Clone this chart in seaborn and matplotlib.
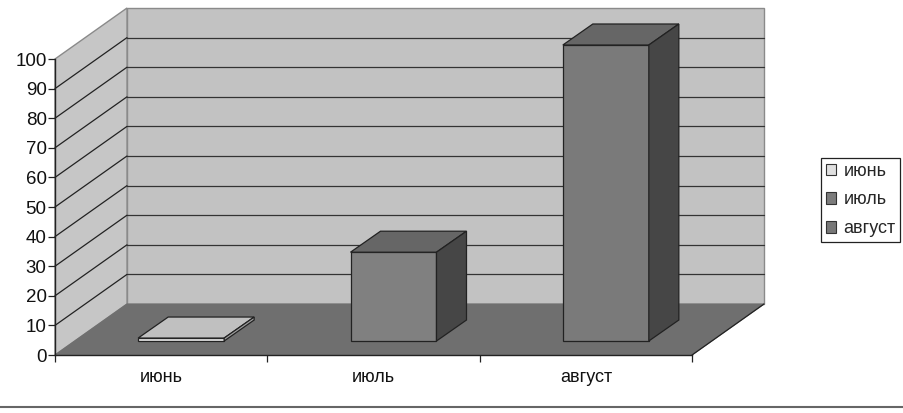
import matplotlib
matplotlib.use('Agg')
import matplotlib.pyplot as plt
import matplotlib.transforms as mtrans
from matplotlib.patches import Polygon
import pandas as pd
import seaborn as sns

# chart values
months = ['июнь', 'июль', 'август']
values = [1, 30, 100]
y_ticks = list(range(0, 101, 10))

# colours of the front, top and side of each bar
front_colors = ['#e4e4e4', '#808080', '#7a7a7a']
top_colors = ['#c0c0c0', '#666666', '#666666']
side_colors = ['#a0a0a0', '#464646', '#464646']
legend_colors = ['#e0e0e0', '#7c7c7c', '#777777']

sns.set_theme(style='white')
plt.rcParams['font.family'] = ['Liberation Sans', 'DejaVu Sans']

W, H = 904, 413
fig = plt.figure(figsize=(W / 100, H / 100), dpi=100, facecolor='white')
# axes is the front plane of the 3d box, in pixels: x 55-692, y 355-59
ax = fig.add_axes([55 / W, (H - 355) / H, 637 / W, 296 / H])

df = pd.DataFrame({'month': months, 'value': values})
sns.barplot(data=df, x='month', y='value', hue='month', palette=legend_colors,
            width=0.405, dodge=False, legend=True, ax=ax, saturation=1)
ax.set_xlim(-0.5, 2.5)
ax.set_ylim(0, 100)
ax.set_xlabel('')
ax.set_ylabel('')
ax.patch.set_visible(False)

bars = sorted([b for b in ax.patches if b.get_height() > 0], key=lambda b: b.get_x())


def shift(dx, dy):
    # move something by screen pixels (dy counted upward)
    return ax.transData + mtrans.ScaledTranslation(dx / 100, dy / 100, fig.dpi_scale_trans)


def to_px(x, y, dx=0, dy=0):
    return shift(dx, dy).transform((x, y))


def face(points, color, z=1, edge='#333333', lw=0.8):
    p = Polygon(points, closed=True, facecolor=color, edgecolor=edge, linewidth=lw,
                zorder=z, transform=mtrans.IdentityTransform(), clip_on=False)
    ax.add_artist(p)
    p.set_clip_on(False)


def px_line(a, b, color='#222222', lw=0.9, z=0.5):
    ax.plot([a[0], b[0]], [a[1], b[1]], color=color, lw=lw, zorder=z,
            transform=mtrans.IdentityTransform(), clip_on=False)


DX, DY = 72, 51

# back wall, side wall and floor
face([to_px(-0.5, 0, DX, DY), to_px(2.5, 0, DX, DY), to_px(2.5, 100, DX, DY), to_px(-0.5, 100, DX, DY)],
     '#c2c2c2', z=0.1, edge='#8a8a8a', lw=1.0)
face([to_px(-0.5, 0), to_px(-0.5, 0, DX, DY), to_px(-0.5, 100, DX, DY), to_px(-0.5, 100)],
     '#c6c6c6', z=0.1, edge='#8a8a8a', lw=1.0)
face([to_px(-0.5, 0), to_px(2.5, 0), to_px(2.5, 0, DX, DY), to_px(-0.5, 0, DX, DY)],
     '#6f6f6f', z=0.2, edge='#6f6f6f')

# gridlines on both walls, the top edge stays plain
for t in y_ticks[1:-1]:
    px_line(to_px(-0.5, t, DX, DY), to_px(2.5, t, DX, DY), color='#333333')
    px_line(to_px(-0.5, t), to_px(-0.5, t, DX, DY))

# edge of the floor at the right side
px_line(to_px(2.5, 0), to_px(2.5, 0, DX, DY), z=0.6)

# turn the seaborn bars into boxes
BAR_DX, BAR_DY = 20, 14
DEPTH_X, DEPTH_Y = 30, 21
for i, bar in enumerate(bars):
    x0, x1 = bar.get_x(), bar.get_x() + bar.get_width()
    top = bar.get_height()
    bar.set_transform(shift(BAR_DX, BAR_DY))
    bar.set_facecolor(front_colors[i])
    bar.set_edgecolor('#222222')
    bar.set_linewidth(0.9)
    bar.set_zorder(3)
    bar.set_clip_on(False)
    fl = to_px(x0, top, BAR_DX, BAR_DY)
    fr = to_px(x1, top, BAR_DX, BAR_DY)
    br = to_px(x1, 0, BAR_DX, BAR_DY)
    face([fl, fr, fr + (DEPTH_X, DEPTH_Y), fl + (DEPTH_X, DEPTH_Y)], top_colors[i], z=3, edge='#222222', lw=0.9)
    face([fr, br, br + (DEPTH_X, DEPTH_Y), fr + (DEPTH_X, DEPTH_Y)], side_colors[i], z=3, edge='#222222', lw=0.9)

# axes lines and ticks
for s in ['top', 'right']:
    ax.spines[s].set_visible(False)
for s in ['left', 'bottom']:
    ax.spines[s].set_color('#222222')
    ax.spines[s].set_linewidth(1.0)
    ax.spines[s].set_zorder(2)
ax.set_yticks(y_ticks)
ax.set_xticks([-0.5, 0.5, 1.5, 2.5])
ax.set_xticklabels([])
ax.tick_params(axis='both', length=5, width=0.9, color='#222222', left=True, bottom=True)
ax.tick_params(axis='y', labelsize=13.5, pad=1, labelcolor='#111111')
for i, m in enumerate(months):
    ax.annotate(m, (i, 0), xytext=(0, -22), textcoords='offset pixels',
                ha='center', va='center', fontsize=13, color='#111111', annotation_clip=False)

# legend
handles, labels = ax.get_legend_handles_labels()
leg = ax.legend(handles, labels, loc='center left', bbox_to_anchor=(821 / W, 1 - 200 / H),
                bbox_transform=fig.transFigure, fontsize=13, frameon=True, fancybox=False,
                edgecolor='#222222', framealpha=1, borderpad=0.25, labelspacing=0.65,
                handlelength=0.6, handleheight=0.6, handletextpad=0.4, borderaxespad=0)
leg.get_frame().set_linewidth(0.9)
for h in leg.get_patches():
    h.set_edgecolor('#333333')
    h.set_linewidth(0.8)

# rule at the bottom of the picture
fig.add_artist(plt.Line2D([0, 1], [1 - 407 / H] * 2, color='#666666', lw=1.5))

fig.savefig('out.png', dpi=100)
